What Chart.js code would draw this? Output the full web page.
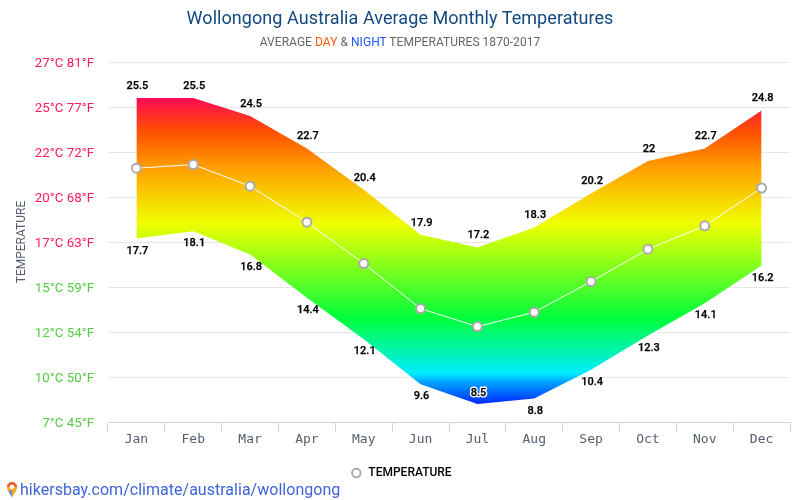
<!DOCTYPE html>
<html>
<head>
<meta charset="utf-8">
<style>
html,body{margin:0;padding:0;background:#fff;width:800px;height:500px;overflow:hidden;font-family:Roboto,sans-serif}
#wrap{position:relative;width:800px;height:500px}
canvas{position:absolute;left:0;top:0}
.t{position:absolute;white-space:nowrap}
#title{left:0;width:800px;text-align:center;top:7px;font-size:18px;line-height:22px;color:#12497f;letter-spacing:.06px}
#sub{left:0;width:800px;text-align:center;top:34px;font-size:12px;line-height:16px;color:#666;letter-spacing:.05px}
#link{left:20px;top:480px;font-size:16px;line-height:19px;color:#3f64d8;letter-spacing:.02px}
#pin{position:absolute;left:6px;top:481px}
</style>
</head>
<body>
<div id="wrap">
<canvas id="c" width="800" height="500"></canvas>
<div class="t" id="title">Wollongong Australia Average Monthly Temperatures</div>
<div class="t" id="sub">AVERAGE <span style="color:#ff5a14">DAY</span> &amp; <span style="color:#2457f5">NIGHT</span> TEMPERATURES 1870-2017</div>
<svg id="pin" width="12" height="17" viewBox="0 0 12 17">
<path d="M6 16.5C4 12.5 1 10 1 6a5 5 0 0 1 10 0c0 4-3 6.500-5 10.500z" fill="#f5a623"/>
<path d="M6 1a5 5 0 0 0-5 5h2.500a2.500 2.500 0 0 1 5 0H11a5 5 0 0 0-5-5z" fill="#ee5a3a"/>
<path d="M6 16.500C5 14 3.500 12.500 2.500 10.500L6 9z" fill="#5b8fd9"/>
<circle cx="6" cy="6" r="2.300" fill="#fff"/>
</svg>
<div class="t" id="link">hikersbay.com/climate/australia/wollongong</div>
</div>
<script src="https://cdn.jsdelivr.net/npm/chart.js@4"></script>
<script>
const months = ['Jan','Feb','Mar','Apr','May','Jun','Jul','Aug','Sep','Oct','Nov','Dec'];
const dayTemps = [25.5,25.5,24.5,22.7,20.4,17.9,17.2,18.3,20.2,22,22.7,24.8];
const nightTemps = [17.7,18.1,16.8,14.4,12.1,9.6,8.5,8.8,10.4,12.3,14.1,16.2];
const avgTemps = [21.6,21.8,20.6,18.6,16.3,13.8,12.8,13.6,15.3,17.1,18.4,20.5];
const yTickLabels = ['7°C 45°F','10°C 50°F','12°C 54°F','15°C 59°F','17°C 63°F','20°C 68°F','22°C 72°F','25°C 77°F','27°C 81°F'];

function areaGradient(ctx){
  const chart = ctx.chart;
  if(!chart.chartArea) return '#ff0';
  const y = chart.scales.y;
  const top = y.getPixelForValue(Math.max(...dayTemps));
  const bottom = y.getPixelForValue(Math.min(...nightTemps));
  const g = chart.ctx.createLinearGradient(0, top, 0, bottom);
  [[0,'#ff0a55'],[0.11,'#ff5000'],[0.23,'#ffa000'],[0.41,'#f0ff00'],[0.72,'#00ff3c'],
   [0.9,'#00ecff'],[0.925,'#00aaff'],[1,'#0028ff']].forEach(s=>g.addColorStop(s[0],s[1]));
  return g;
}

const valueLabels = {
  id:'valueLabels',
  afterDatasetsDraw(chart){
    const c = chart.ctx;
    c.save();
    c.font = '500 11px Roboto';
    c.textAlign = 'center';
    c.textBaseline = 'middle';
    const lowest = Math.min(...nightTemps);
    const put = (txt,x,y)=>{
      c.strokeStyle='#000'; c.lineWidth=0.25; c.strokeText(txt,x,y);
      c.fillStyle='#000'; c.fillText(txt,x,y);
    };
    chart.getDatasetMeta(1).data.forEach((p,i)=>{
      put(String(dayTemps[i]), p.x+1, p.y-12);
    });
    chart.getDatasetMeta(2).data.forEach((p,i)=>{
      const inside = nightTemps[i]===lowest;
      const ty = inside ? p.y-11 : p.y+12.5;
      if(inside){ c.strokeStyle='#fff'; c.lineWidth=3; c.lineJoin='round'; c.strokeText(String(nightTemps[i]), p.x+1, ty); }
      put(String(nightTemps[i]), p.x+1, ty);
    });
    c.restore();
  }
};

new Chart(document.getElementById('c'),{
  type:'line',
  data:{
    labels:months,
    datasets:[
      {label:'TEMPERATURE',data:avgTemps,borderColor:'#fff',borderWidth:1,pointRadius:4.5,
       pointBackgroundColor:'#fff',pointBorderColor:'#aaa',pointBorderWidth:2,tension:0,fill:false},
      {label:'Day',data:dayTemps,borderWidth:0,borderColor:'transparent',pointRadius:0,tension:0,
       fill:'+1',backgroundColor:areaGradient},
      {label:'Night',data:nightTemps,borderWidth:0,borderColor:'transparent',pointRadius:0,tension:0,fill:false}
    ]
  },
  options:{
    responsive:false,animation:false,
    layout:{padding:{left:12,right:10,top:62,bottom:11}},
    plugins:{
      tooltip:{enabled:false},
      title:{display:false},
      legend:{
        position:'bottom',
        labels:{
          usePointStyle:true,pointStyle:'circle',boxHeight:6,padding:6,
          color:'#333',font:{family:'Roboto',size:12,weight:'500'},
          generateLabels(){return [{text:'TEMPERATURE',fillStyle:'#fff',strokeStyle:'#aaa',lineWidth:2,pointStyle:'circle',datasetIndex:0}];}
        }
      }
    },
    scales:{
      x:{
        offset:true,
        grid:{offset:true,drawOnChartArea:false,tickLength:10,tickColor:'#ccd6eb',tickWidth:1},
        border:{color:'#ccd6eb',width:1},
        ticks:{color:'#566070',font:{family:'"DejaVu Sans Mono"',size:13},padding:0,maxRotation:0,autoSkip:false},
        afterFit(s){s.height=39;}
      },
      y:{
        min:7.5,max:27.5,
        grid:{color:'#e6e6e6',drawTicks:false,lineWidth:1},
        border:{display:false},
        title:{display:true,text:'TEMPERATURE',color:'#555f6e',font:{family:'Roboto',size:12},padding:{top:3,bottom:0}},
        ticks:{
          stepSize:2.5,padding:14,autoSkip:false,
          font:{family:'Roboto',size:13.3,lineHeight:'3px'},
          callback(v,i){return ['',yTickLabels[i]];},
          color(ctx){return ctx.tick.value>=17.5?'#ff1a5c':'#55cc44';}
        },
        afterFit(s){s.width=96;}
      }
    }
  },
  plugins:[valueLabels]
});
</script>
</body>
</html>
